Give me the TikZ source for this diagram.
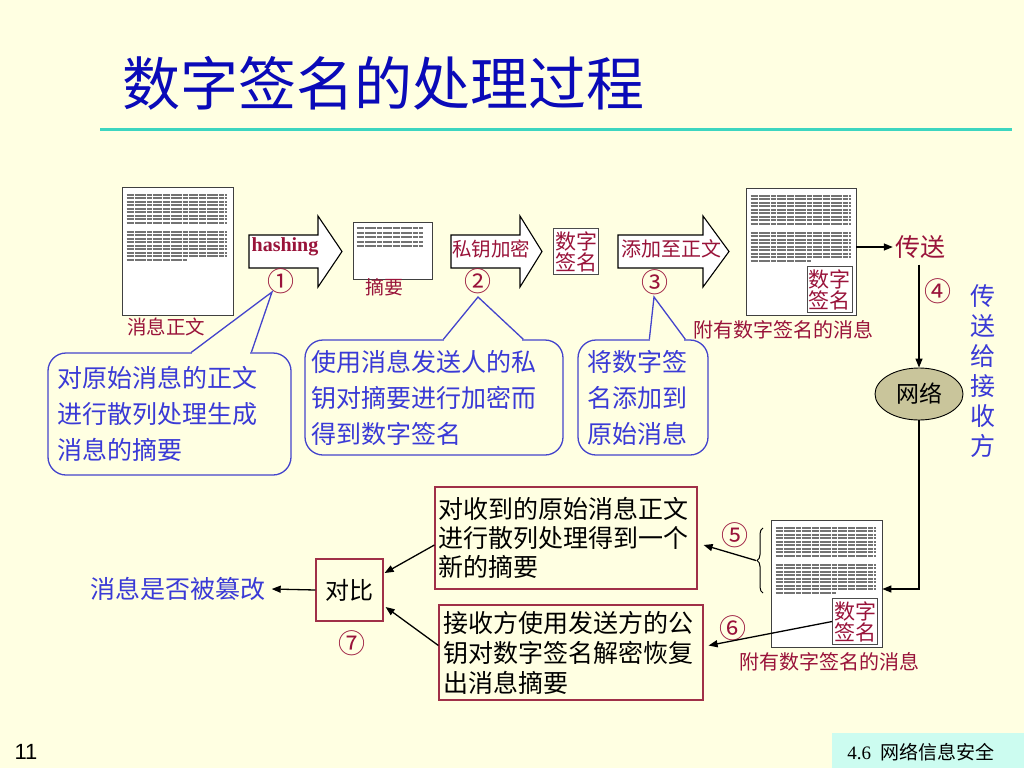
\documentclass[tikz,border=0pt]{standalone}
\usepackage{fontspec}
\setmainfont{Liberation Serif}
\newfontfamily\cjk{Noto Sans CJK SC}
\newfontfamily\arialfont{Liberation Sans}
\usetikzlibrary{arrows.meta,calc,shapes.geometric,decorations.pathreplacing}

\definecolor{slidebg}{HTML}{FFFFE2}
\definecolor{darkred}{HTML}{99133A}
\definecolor{titleblue}{HTML}{0A0AB8}
\definecolor{ruleteal}{HTML}{3CD6C0}
\definecolor{noteblue}{HTML}{4444CC}
\definecolor{notetext}{HTML}{3A3AD6}
\definecolor{boxred}{HTML}{A03048}
\definecolor{netfill}{HTML}{C9C59B}
\definecolor{footcyan}{HTML}{CCFCF0}

\begin{document}
\begin{tikzpicture}[x=1pt, y=-1pt,
  doc/.style={draw=black!75, fill=white, line width=0.8pt, inner sep=0pt},
  doctext/.style={black!55, line width=2pt, dash pattern=on 7pt off 1pt on 11pt off 1pt on 5pt off 1pt on 9pt off 1pt},
  blockarrow/.style={draw=black, fill=white, line width=1.1pt, line join=miter},
  redtext/.style={text=darkred, inner sep=0pt, font=\cjk\fontsize{#1}{#1}\selectfont},
  bluetext/.style={text=notetext, inner sep=0pt, font=\cjk\fontsize{#1}{#1}\selectfont},
  num/.style={text=darkred, inner sep=0pt, font=\cjk\fontsize{27}{27}\selectfont},
  sigbox/.style={draw=black!70, fill=white, line width=0.8pt, minimum width=45pt, minimum height=46pt,
    inner sep=0pt, align=center, text=darkred, font=\cjk\fontsize{21}{21}\selectfont},
  redbox/.style={draw=boxred, line width=1.2pt, align=left, font=\cjk\fontsize{25}{29}\selectfont},
  note/.style={draw=noteblue, line width=1.3pt, rounded corners=18pt, align=left, text=notetext,
    font=\cjk\fontsize{25}{36}\selectfont},
  balloonline/.style={noteblue, line width=1.3pt},
  conn/.style={black, line width=1.3pt, -{Triangle[length=9pt,width=7pt]}}]

% slide
\fill[slidebg] (0,0) rectangle (1024,768);
\useasboundingbox (0,0) rectangle (1024,768);
\node[font=\cjk\fontsize{58}{58}\selectfont, text=titleblue, inner sep=0pt] (title) at (383,83) {数字签名的处理过程};
\draw[ruleteal, line width=3pt] (100,129) -- (1012,129);

% documents
\node[doc, minimum width=111pt, minimum height=128pt] (doc1) at (177.5,251) {};
\node[doc, minimum width=79pt, minimum height=57pt] (digest) at (392.5,251) {};
\node[doc, minimum width=110pt, minimum height=127pt] (doc3) at (801,251.5) {};
\node[doc, minimum width=111pt, minimum height=127pt] (doc4) at (826.5,583.5) {};
\foreach \d in {doc1,doc3,doc4}{
  \foreach \k in {0,...,8}
    \draw[doctext] ([shift={(5,8+3.5*\k)}]\d.north west) -- ++(100,0);
  \foreach \k in {0,...,7}
    \draw[doctext] ([shift={(5,45+3.5*\k)}]\d.north west) -- ++(100,0);
  \draw[doctext] ([shift={(5,73.5)}]\d.north west) -- ++(60,0);
}
\foreach \k in {0,...,4}
  \draw[doctext] ([shift={(4,6+4.5*\k)}]digest.north west) -- ++(66,0);

% block arrows
\foreach \xa/\xb/\xc in {249/318/342, 451/520/542, 618/703/729}
  \draw[blockarrow] (\xa,235) -- (\xb,235) -- (\xb,216) -- (\xc,251.5) -- (\xb,287) -- (\xb,268) -- (\xa,268) -- cycle;
\node[font=\bfseries\fontsize{20}{20}\selectfont, text=darkred, inner sep=0pt] (hash) at (285,247) {hashing};
\node[redtext=19.5] (enc) at (491,249) {私钥加密};
\node[redtext=20] (attach) at (671,249) {添加至正文};

% signatures
\node[sigbox] (sig) at (576,251.5) {数字\\签名};
\node[sigbox] (sig3) at (829.5,289.5) {数字\\签名};
\node[sigbox] (sig4) at (855,621.5) {数字\\签名};

\node[redtext=19.5] (lbl1) at (166,327) {消息正文};
\node[redtext=19] (lbl2) at (384,287) {摘要};
\node[redtext=20] (lbl3) at (783,330) {附有数字签名的消息};
\node[redtext=20] (lbl4) at (829,662) {附有数字签名的消息};

% step numbers
\node[num] (n1) at (281,281) {①};
\node[num] (n2) at (478,281) {②};
\node[num] (n3) at (655,282) {③};
\node[num] (n4) at (938,291) {④};
\node[num] (n5) at (735,535) {⑤};
\node[num] (n6) at (733,628) {⑥};
\node[num] (n7) at (352,643) {⑦};

% sending over the network
\node[redtext=25] (send) at (920,247) {传送};
\draw[conn] (doc3.east |- send.west) -- ([xshift=-2pt]send.west);
\node[ellipse, draw=black, fill=netfill, line width=0.9pt, minimum width=88pt, minimum height=52pt,
  inner sep=0pt, font=\cjk\fontsize{23}{23}\selectfont] (net) at (919,394) {网络};
\draw[conn] (send.south -| net.north) ++(0,6) -- (net.north);
\draw[conn] (net.south) |- ($(doc4.east)+(0,5.5)$);
\node[align=center, text=notetext, inner sep=0pt, font=\cjk\fontsize{25}{30}\selectfont] (recv) at (983,371) {传\\送\\给\\接\\收\\方};

% receiver side
\node[redbox, inner xsep=3pt, text width=256pt, minimum height=102pt] (box5) at (566,538) {对收到的原始消息正文\\进行散列处理得到一个\\新的摘要};
\node[redbox, inner xsep=4pt, text width=256pt, minimum height=95pt, font=\cjk\fontsize{25}{30}\selectfont] (box6) at (571,652.5) {接收方使用发送方的公\\钥对数字签名解密恢复\\出消息摘要};
\node[redbox, minimum width=67pt, minimum height=62pt, inner sep=0pt, font=\cjk\fontsize{24}{24}\selectfont] (cmp) at (349.5,590) {对比};
\node[bluetext=25] (result) at (178,589) {消息是否被篡改};

\draw[line width=1pt, decorate, decoration={brace, amplitude=6pt}] (763,593) -- (763,528);
\coordinate (btip) at (756,560.5);
\draw[conn] (btip) -- ($(box5.east)+(6,7)$);
\draw[conn] (sig4.west) -- ($(box6.east)+(5,-7)$);
\draw[conn] ($(box5.west)+(0,7)$) -- ($(cmp.east)+(1,-17)$);
\draw[conn] ($(box6.west)+(0,-7)$) -- ($(cmp.east)+(2,17)$);
\draw[conn] (cmp.west) -- ([xshift=6pt]result.east);

% explanation balloons
\node[note, inner xsep=9pt, text width=225pt, minimum height=122pt] (note1) at (169.5,414) {对原始消息的正文\\进行散列处理生成\\消息的摘要};
\node[note, inner xsep=6pt, text width=246pt, minimum height=115pt] (note2) at (434,397.5) {使用消息发送人的私\\钥对摘要进行加密而\\得到数字签名};
\node[note, inner xsep=9pt, text width=112pt, minimum height=115pt] (note3) at (643,397.5) {将数字签\\名添加到\\原始消息};
\coordinate (t1) at (272,292);
\coordinate (t2) at (478,297);
\coordinate (t3) at (654,297);
\fill[slidebg] ($(note1.north west)+(145,-3)$) rectangle ($(note1.north west)+(203,3)$);
\draw[balloonline] ($(note1.north west)+(144,0)$) -- (t1) -- ($(note1.north west)+(204,0)$);
\fill[slidebg] ($(note2.north west)+(140,-3)$) rectangle ($(note2.north west)+(218,3)$);
\draw[balloonline] ($(note2.north west)+(139,0)$) -- (t2) -- ($(note2.north west)+(219,0)$);
\fill[slidebg] ($(note3.north west)+(73,-3)$) rectangle ($(note3.north west)+(107,3)$);
\draw[balloonline] ($(note3.north west)+(72,0)$) -- (t3) -- ($(note3.north west)+(108,0)$);

% footer
\node[font=\arialfont\fontsize{22}{22}\selectfont, inner sep=0pt] (page) at (26,752) {11};
\fill[footcyan] (832,733) rectangle (1024,768);
\node[font=\fontsize{19}{19}\selectfont, inner sep=0pt] (foot) at (921,752) {4.6\ \ {\cjk 网络信息安全}};
\end{tikzpicture}
\end{document}
